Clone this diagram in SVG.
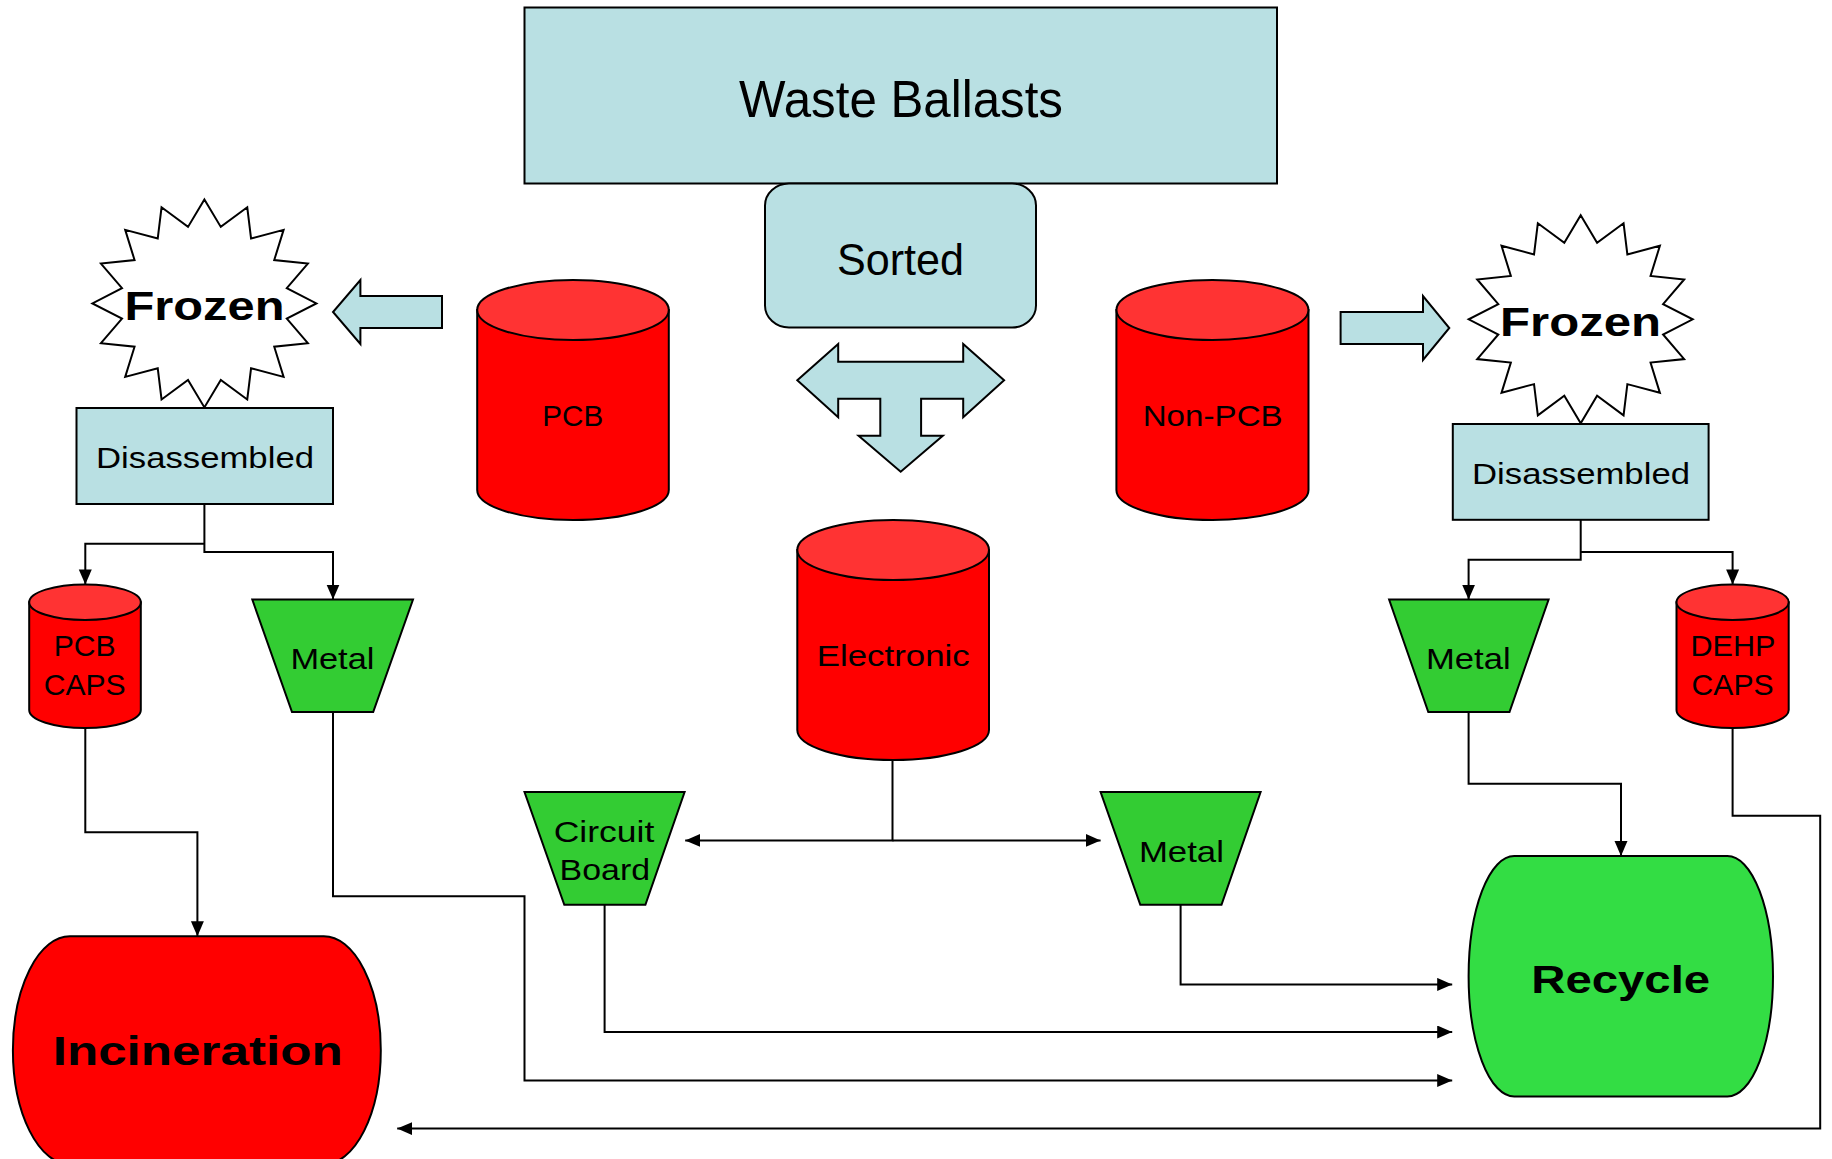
<svg xmlns="http://www.w3.org/2000/svg" width="1832" height="1159" viewBox="0 0 1832 1159">
<style>
.blue{fill:#B9E0E3;stroke:#000;stroke-width:2}
.red{fill:#FF0000;stroke:#000;stroke-width:2}
.redtop{fill:#FF3333;stroke:#000;stroke-width:2}
.green{fill:#33CC33;stroke:#000;stroke-width:2}
.star{fill:#FFFFFF;stroke:#000;stroke-width:2}
.t{font-family:"Liberation Sans",Arial,sans-serif;fill:#000;text-anchor:middle}
.b{font-weight:bold}
.conn path{fill:none;stroke:#000;stroke-width:2;marker-end:url(#ah)}
</style>
<defs>
<marker id="ah" markerUnits="userSpaceOnUse" markerWidth="16" markerHeight="14" refX="15" refY="6.5" orient="auto">
<path d="M0,0 L15,6.5 L0,13 Z" fill="#000"/>
</marker>
<polygon id="starShape" class="star" points="0,-104 16.39,-76.5 42.86,-96.08 46.67,-64.85 79.2,-73.54 69.84,-43.33 103.47,-39.8 82.39,-15.22 112,0 82.39,15.22 103.47,39.8 69.84,43.33 79.2,73.54 46.67,64.85 42.86,96.08 16.39,76.5 0,104 -16.39,76.5 -42.86,96.08 -46.67,64.85 -79.2,73.54 -69.84,43.33 -103.47,39.8 -82.39,15.22 -112,0 -82.39,-15.22 -103.47,-39.8 -69.84,-43.33 -79.2,-73.54 -46.67,-64.85 -42.86,-96.08 -16.39,-76.5"/>
</defs>
<rect width="1832" height="1159" fill="#FFFFFF"/>

<g id="connectors" class="conn">
<path d="M204.4,504 V552 H333 V599.6"/>
<path d="M204.4,543.8 H85.3 V584.4"/>
<path d="M1580.7,519.8 V559.8 H1468.6 V599.6"/>
<path d="M1580.7,552 H1732.6 V584.4"/>
<path d="M85.3,728 V832.3 H197.4 V936.3"/>
<path d="M333,712 V896.3 H524.5 V1080.5 H1452.2"/>
<path d="M604.6,904.8 V1032 H1452.2"/>
<path d="M1180.6,904.8 V984.4 H1452.2"/>
<path d="M1468.6,712 V783.8 H1621 V856"/>
<path d="M1732.6,728 V815.7 H1820.2 V1128.6 H397.2"/>
<path d="M892.5,760 V840.4 H685.2"/>
<path d="M892.5,840.4 H1100.6"/>
</g>

<g id="waste-ballasts">
<rect class="blue" x="524.5" y="7.5" width="752.5" height="176"/>
<text class="t" x="901" y="116.5" font-size="52" textLength="324" lengthAdjust="spacingAndGlyphs">Waste Ballasts</text>
</g>

<g id="sorted">
<rect class="blue" x="765" y="183.5" width="271" height="144" rx="24" ry="22"/>
<text class="t" x="900.5" y="274.5" font-size="45" textLength="127" lengthAdjust="spacingAndGlyphs">Sorted</text>
</g>

<g id="sort-arrow">
<polygon class="blue" points="797.3,380.3 838.2,344 838.2,361.8 963.2,361.8 963.2,344 1004.1,380.3 963.2,417.3 963.2,398.8 921.1,398.8 921.1,435.8 942.8,435.8 900.7,471.7 858.6,435.8 880.3,435.8 880.3,398.8 838.2,398.8 838.2,417.3"/>
</g>

<g id="arrow-left">
<polygon class="blue" points="442,296 360.4,296 360.4,280 333,312 360.4,344 360.4,328 442,328"/>
</g>
<g id="arrow-right">
<polygon class="blue" points="1340.6,312 1423,312 1423,296 1449.3,328 1423,360 1423,344 1340.6,344"/>
</g>

<g id="frozen-left">
<use href="#starShape" transform="translate(204.4,303.4)"/>
<text class="t b" x="204.5" y="320" font-size="40" textLength="160" lengthAdjust="spacingAndGlyphs">Frozen</text>
</g>
<g id="frozen-right">
<use href="#starShape" transform="translate(1580.7,319.3)"/>
<text class="t b" x="1580.6" y="336" font-size="40" textLength="161" lengthAdjust="spacingAndGlyphs">Frozen</text>
</g>

<g id="pcb">
<path class="red" d="M477.2,310 V490 A95.8,30 0 0 0 668.8,490 V310 Z"/>
<ellipse class="redtop" cx="573" cy="310" rx="95.8" ry="30"/>
<text class="t" x="572.7" y="425.5" font-size="30" textLength="61" lengthAdjust="spacingAndGlyphs">PCB</text>
</g>

<g id="non-pcb">
<path class="red" d="M1116.4,310 V490 A96,30 0 0 0 1308.5,490 V310 Z"/>
<ellipse class="redtop" cx="1212.45" cy="310" rx="96" ry="30"/>
<text class="t" x="1212.7" y="425.5" font-size="30" textLength="140" lengthAdjust="spacingAndGlyphs">Non-PCB</text>
</g>

<g id="electronic">
<path class="red" d="M797.3,550 V730 A95.85,30 0 0 0 989,730 V550 Z"/>
<ellipse class="redtop" cx="893.15" cy="550" rx="95.85" ry="30"/>
<text class="t" x="893.2" y="665.8" font-size="30" textLength="153" lengthAdjust="spacingAndGlyphs">Electronic</text>
</g>

<g id="disassembled-left">
<rect class="blue" x="76.5" y="408" width="256.5" height="96"/>
<text class="t" x="205" y="468" font-size="30" textLength="218" lengthAdjust="spacingAndGlyphs">Disassembled</text>
</g>
<g id="disassembled-right">
<rect class="blue" x="1452.8" y="424" width="255.8" height="95.8"/>
<text class="t" x="1581" y="484" font-size="30" textLength="218" lengthAdjust="spacingAndGlyphs">Disassembled</text>
</g>

<g id="pcb-caps">
<path class="red" d="M29.2,602.2 V710 A55.8,18 0 0 0 140.8,710 V602.2 Z"/>
<ellipse class="redtop" cx="85" cy="602.2" rx="55.8" ry="17.8"/>
<text class="t" x="84.7" y="655.8" font-size="30" textLength="62" lengthAdjust="spacingAndGlyphs">PCB</text>
<text class="t" x="84.7" y="694.7" font-size="30" textLength="82" lengthAdjust="spacingAndGlyphs">CAPS</text>
</g>

<g id="dehp-caps">
<path class="red" d="M1676.5,602.2 V710 A56.1,18 0 0 0 1788.7,710 V602.2 Z"/>
<ellipse class="redtop" cx="1732.6" cy="602.2" rx="56.1" ry="17.8"/>
<text class="t" x="1732.9" y="655.8" font-size="30" textLength="85" lengthAdjust="spacingAndGlyphs">DEHP</text>
<text class="t" x="1732.6" y="694.7" font-size="30" textLength="82" lengthAdjust="spacingAndGlyphs">CAPS</text>
</g>

<g id="metal-left">
<polygon class="green" points="252.3,599.6 413,599.6 373.2,712 292,712"/>
<text class="t" x="332.4" y="668.8" font-size="30" textLength="84" lengthAdjust="spacingAndGlyphs">Metal</text>
</g>

<g id="metal-right">
<polygon class="green" points="1389.1,599.6 1548.6,599.6 1509.5,712 1428.3,712"/>
<text class="t" x="1468.3" y="668.8" font-size="30" textLength="84.6" lengthAdjust="spacingAndGlyphs">Metal</text>
</g>

<g id="circuit-board">
<polygon class="green" points="524.5,792 684.6,792 645.4,904.8 564.3,904.8"/>
<text class="t" x="604" y="842" font-size="30" textLength="100.5" lengthAdjust="spacingAndGlyphs">Circuit</text>
<text class="t" x="604.8" y="880.4" font-size="30" textLength="90.5" lengthAdjust="spacingAndGlyphs">Board</text>
</g>

<g id="metal-middle">
<polygon class="green" points="1100.6,792 1260.6,792 1221.5,904.8 1140.3,904.8"/>
<text class="t" x="1181.4" y="861.9" font-size="30" textLength="85" lengthAdjust="spacingAndGlyphs">Metal</text>
</g>

<g id="recycle">
<path d="M1514.2,856 H1727.4 A45.6,120.25 0 0 1 1727.4,1096.5 H1514.2 A45.6,120.25 0 0 1 1514.2,856 Z" fill="#33DD44" stroke="#000" stroke-width="2"/>
<text class="t b" x="1620.7" y="992.5" font-size="39" textLength="179" lengthAdjust="spacingAndGlyphs">Recycle</text>
</g>

<g id="incineration">
<path d="M69.9,936.3 H323.8 A57,114 0 0 1 323.8,1164.3 H69.9 A57,114 0 0 1 69.9,936.3 Z" fill="#FF0000" stroke="#000" stroke-width="2"/>
<text class="t b" x="197.7" y="1064.6" font-size="40" textLength="290" lengthAdjust="spacingAndGlyphs">Incineration</text>
</g>
</svg>
